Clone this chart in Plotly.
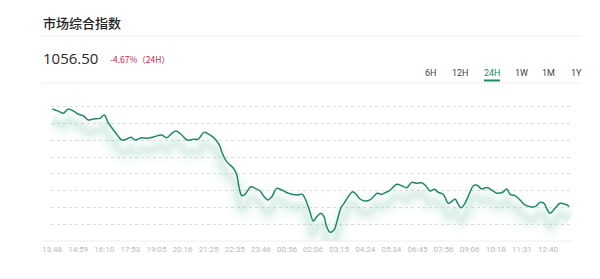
import plotly.graph_objects as go

# ---- data ----
tick_labels = ["13:48", "14:59", "16:10", "17:53", "19:05", "20:16", "21:25", "22:35",
               "23:46", "00:56", "02:06", "03:15", "04:24", "05:34", "06:45", "07:56",
               "09:06", "10:18", "11:31", "12:40"]
pos = [0.01, 0.24, 0.43, 0.62, 0.82, 1.01, 1.20, 1.39, 1.58, 1.84, 2.00, 2.16, 2.35, 2.52,
       2.67, 2.86, 3.03, 3.18, 3.44, 3.63, 3.88, 4.20, 4.39, 4.59, 4.75, 4.97, 5.18, 5.41,
       5.61, 5.82, 6.05, 6.28, 6.44, 6.50, 6.69, 6.95, 7.08, 7.16, 7.27, 7.39, 7.62, 7.78,
       7.97, 8.13, 8.26, 8.42, 8.61, 8.80, 9.05, 9.38, 9.59, 9.69, 9.86, 10.01, 10.14, 10.30,
       10.42, 10.52, 10.65, 10.80, 10.93, 11.06, 11.23, 11.39, 11.52, 11.65, 11.80, 11.99,
       12.18, 12.31, 12.46, 12.63, 12.80, 12.95, 13.21, 13.40, 13.59, 13.78, 13.97, 14.16,
       14.32, 14.48, 14.65, 14.80, 14.99, 15.18, 15.31, 15.44, 15.54, 15.67, 15.82, 16.02,
       16.14, 16.27, 16.46, 16.66, 16.85, 17.04, 17.27, 17.42, 17.55, 17.74, 17.93, 18.12,
       18.31, 18.51, 18.70, 18.85, 18.98, 19.08, 19.27, 19.46, 19.66, 19.82]
price = [1108.7, 1107.6, 1106.4, 1108.7, 1107.6, 1105.9, 1105.1, 1102.8, 1103.4, 1103.7,
         1105.5, 1101.1, 1097.5, 1094.4, 1092.1, 1092.6, 1093.6, 1092.1, 1093.3, 1093.0,
         1093.7, 1094.8, 1093.3, 1095.7, 1096.9, 1094.8, 1092.1, 1092.5, 1092.6, 1096.2,
         1094.8, 1092.1, 1088.5, 1085.8, 1080.5, 1077.0, 1073.4, 1067.1, 1062.3, 1063.0,
         1067.1, 1066.2, 1064.8, 1061.7, 1060.0, 1061.7, 1066.2, 1065.3, 1063.6, 1062.6,
         1063.0, 1060.9, 1054.6, 1048.7, 1051.0, 1052.8, 1051.0, 1045.7, 1042.7, 1043.9,
         1049.2, 1055.5, 1059.1, 1062.6, 1064.4, 1063.0, 1060.5, 1059.4, 1060.0, 1061.7,
         1063.6, 1063.0, 1064.1, 1065.3, 1068.4, 1067.6, 1066.6, 1069.4, 1068.9, 1069.2,
         1067.6, 1064.8, 1065.7, 1064.1, 1063.0, 1058.2, 1059.1, 1060.5, 1058.2, 1055.8,
         1058.2, 1064.4, 1067.6, 1068.0, 1065.9, 1066.6, 1065.3, 1063.6, 1064.1, 1065.9,
         1063.0, 1062.3, 1060.0, 1057.3, 1056.4, 1056.4, 1058.7, 1058.2, 1054.6, 1052.8,
         1055.5, 1058.2, 1057.7, 1056.5]
grid_vals = [1047, 1056, 1065, 1074, 1083, 1092, 1101, 1110]
last_price = "1056.50"
change_text = "-4.67%（24H）"
title_text = "市场综合指数"
ranges = ["6H", "12H", "24H", "1W", "1M", "1Y"]
active_range = "24H"

# ---- layout geometry ----
W, H = 600, 279
ML, MR, MT, MB = 51, 27, 95, 38
PW, PH = W - ML - MR, H - MT - MB


def px(x):
    return (x - ML) / PW


def py(y):
    return (H - MB - y) / PH


GREEN = "#23876a"
shadow_off = 6.6

fig = go.Figure()
for w, a in [(26, 0.045), (18, 0.06), (11, 0.08), (6, 0.09)]:
    fig.add_trace(go.Scatter(
        x=pos, y=[p - shadow_off for p in price], mode="lines",
        line=dict(color=f"rgba(130,200,180,{a})", width=w, shape="spline", smoothing=1.0),
        hoverinfo="skip", showlegend=False))
fig.add_trace(go.Scatter(
    x=pos, y=price, mode="lines",
    line=dict(color=GREEN, width=1.5, shape="spline", smoothing=1.0),
    showlegend=False))

fig.update_xaxes(
    range=[-0.04, 19.96], tickmode="array", tickvals=list(range(len(tick_labels))),
    ticktext=tick_labels, showgrid=False, zeroline=False, showline=False,
    tickfont=dict(family="Roboto, sans-serif", size=8, color="#b8b8b8"), ticks="",
    ticklabelstandoff=2)
fig.update_yaxes(
    range=[1038, 1038 + PH * 9 / 16.8], tickmode="array", tickvals=grid_vals,
    showticklabels=False, showgrid=True, gridcolor="#dcdcdc", griddash="dot",
    gridwidth=1, zeroline=False, showline=False)

shapes = [
    dict(type="line", xref="paper", yref="paper", x0=px(43), x1=px(573), y0=py(241), y1=py(241),
         line=dict(color="#eeeeee", width=1)),
    dict(type="line", xref="paper", yref="paper", x0=px(42), x1=px(581), y0=py(36), y1=py(36),
         line=dict(color="#eeeeee", width=1)),
    dict(type="line", xref="paper", yref="paper", x0=px(42), x1=px(581), y0=py(83), y1=py(83),
         line=dict(color="#eeeeee", width=1)),
]

annotations = [
    dict(text=title_text, x=px(41), y=py(22), xref="paper", yref="paper", showarrow=False,
         xanchor="left", yanchor="middle",
         font=dict(family="Noto Sans CJK SC", size=13, color="#222222", weight=500)),
    dict(text=last_price, x=px(41), y=py(58), xref="paper", yref="paper", showarrow=False,
         xanchor="left", yanchor="middle",
         font=dict(family="Open Sans, sans-serif", size=15, color="#2a2a2a")),
    dict(text=change_text, x=px(108), y=py(59), xref="paper", yref="paper", showarrow=False,
         xanchor="left", yanchor="middle",
         font=dict(family="Noto Sans CJK SC", size=8.5, color="#bb2d55")),
]
btn_x = [430, 460, 492, 521, 548, 576]
for lbl, bx in zip(ranges, btn_x):
    active = lbl == active_range
    annotations.append(dict(
        text=lbl, x=px(bx), y=py(73), xref="paper", yref="paper", showarrow=False,
        xanchor="center", yanchor="middle",
        font=dict(family="Roboto, sans-serif", size=9, color=GREEN if active else "#444444")))
    if active:
        shapes.append(dict(type="line", xref="paper", yref="paper", x0=px(bx - 8), x1=px(bx + 8),
                           y0=py(80.5), y1=py(80.5), line=dict(color=GREEN, width=2)))

fig.update_layout(
    width=W, height=H, margin=dict(l=ML, r=MR, t=MT, b=MB),
    paper_bgcolor="white", plot_bgcolor="white",
    shapes=shapes, annotations=annotations, showlegend=False)

fig.write_html("out.html")
